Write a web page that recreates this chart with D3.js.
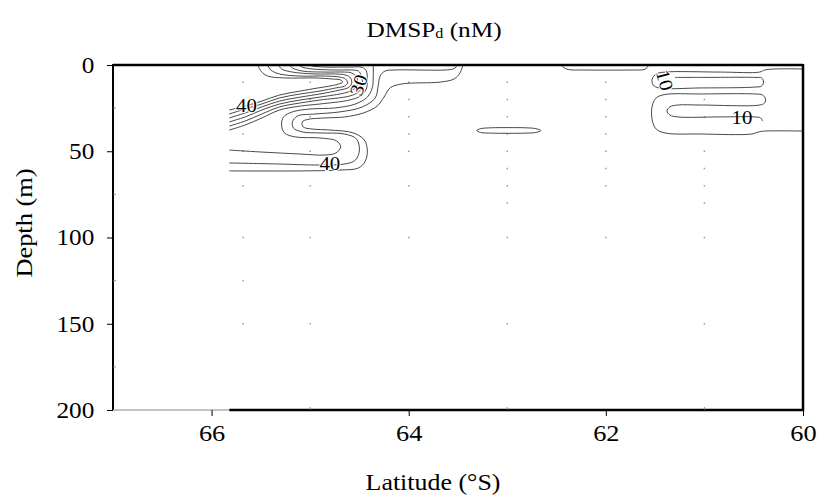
<!DOCTYPE html>
<html><head><meta charset="utf-8">
<script src="https://cdn.jsdelivr.net/npm/d3@7"></script>
<style>
body{margin:0;background:#fff}
text{font-family:"Liberation Serif","Times New Roman",serif;fill:#000}
</style>
</head><body><svg id="c" width="823" height="497"></svg>
<script>
// ---- data ----
const xTicks=[66,64,62,60];
const xMinor=[65,63,61];
const yTicks=[0,50,100,150,200];
const yMinor=[25,75,125,175];
const dataStart=65.82;
const stationLats=[65.68,65.0,64.0,63.0,62.0,61.0];
const stationDepths=[
 [10,40,50,70,100,125,150],
 [10,20,30,50,70,100,150],
 [10,20,30,40,50,70,100],
 [10,20,30,40,50,60,70,80,100,150],
 [10,20,30,40,50,60,70,100],
 [20,30,50,60,70,80,100,150,200]];
// contour lines as [latitude, depth] pairs
const fan1=[[65.53,0],[65.50,3.5],[65.43,6.4],[65.26,7.5],[64.95,7.5],[64.78,8.1],[64.69,8.7],[64.67,9.9],[64.71,11.0],[64.80,12.2],[64.92,13.3],[65.10,15.1],[65.31,17.4],[65.49,20.9],[65.66,23.8],[65.82,26.1]];
const fan2=[[65.43,0],[65.40,2.9],[65.31,5.2],[65.10,6.4],[64.85,6.4],[64.70,7.0],[64.64,8.1],[64.62,10.4],[64.65,12.2],[64.74,13.3],[64.90,15.1],[65.10,16.8],[65.31,19.1],[65.49,22.6],[65.66,25.5],[65.82,28.4]];
const fan3=[[65.32,0],[65.29,2.3],[65.18,4.1],[64.95,5.2],[64.75,5.2],[64.64,5.8],[64.59,7.5],[64.58,11.0],[64.62,13.3],[64.70,14.5],[64.90,16.8],[65.10,18.6],[65.31,20.9],[65.49,24.3],[65.66,27.8],[65.82,30.7]];
const fan4=[[65.21,0],[65.18,1.7],[65.08,3.5],[64.85,4.1],[64.65,4.1],[64.58,4.6],[64.53,7.0],[64.52,11.6],[64.57,14.5],[64.65,16.2],[64.90,18.6],[65.10,20.3],[65.31,22.6],[65.49,26.1],[65.66,30.1],[65.82,33.0]];
const fan5=[[65.11,0],[65.08,1.2],[64.98,2.3],[64.75,2.9],[64.58,2.9],[64.51,3.5],[64.48,6.4],[64.47,12.2],[64.51,15.7],[64.60,18.0],[64.90,20.3],[65.10,22.0],[65.31,24.3],[65.49,28.4],[65.66,32.5],[65.82,35.4]];
const fan6=[[65.01,0],[64.98,0.6],[64.85,1.2],[64.60,1.2],[64.47,1.4],[64.43,3.5],[64.42,8.7],[64.43,13.9],[64.49,18.0],[64.60,20.3],[64.90,22.6],[65.10,23.8],[65.31,26.1],[65.49,30.7],[65.66,34.8],[65.82,37.7]];
const sA=[[65.82,49.3],[65.51,50.4],[65.10,51.6],[64.85,52.2],[64.74,51.0],[64.69,47.5],[64.73,44.1],[64.90,42.3],[65.15,41.7],[65.26,39.4],[65.29,34.8],[65.27,30.1],[65.18,27.2],[65.00,25.5],[64.75,24.9],[64.54,22.6],[64.42,18.6],[64.37,13.3],[64.36,7.5],[64.36,0]];
const sB=[[65.82,56.8],[65.31,57.4],[64.90,58.0],[64.65,57.4],[64.54,55.1],[64.50,49.3],[64.53,42.9],[64.65,40.0],[64.90,39.4],[65.08,38.8],[65.17,36.5],[65.18,33.0],[65.13,29.6],[64.95,28.4],[64.70,27.2],[64.47,24.3],[64.34,19.1],[64.31,12.2],[64.29,6.4],[64.24,3.5],[64.14,2.9],[63.63,2.9],[63.55,2.3],[63.52,1.2],[63.51,0]];
const sC=[[65.82,61.4],[65.10,61.4],[64.70,60.9],[64.51,59.7],[64.44,55.7],[64.42,49.3],[64.45,43.5],[64.56,39.4],[64.80,37.7],[64.98,37.1],[65.07,35.9],[65.08,33.0],[65.03,31.6],[64.85,30.7],[64.65,30.1],[64.46,27.8],[64.32,23.8],[64.25,18.6],[64.19,13.3],[64.07,11.0],[63.68,9.9],[63.54,8.1],[63.48,4.6],[63.45,0]];
const fingerA=[[60.0,2.3],[60.28,2.3],[60.39,2.9],[60.44,4.1],[60.84,4.1],[61.40,4.1],[61.49,5.2],[61.53,8.1],[61.52,11.6],[61.46,13.3],[61.04,13.3],[60.49,12.8],[60.42,12.2],[60.40,9.9],[60.42,7.5],[60.49,7.2],[61.04,7.2],[61.30,7.2]];
const fingerB=[[60.0,38.3],[60.39,38.3],[60.45,38.8],[60.52,40.0],[61.04,40.0],[61.40,39.4],[61.49,37.1],[61.53,31.9],[61.53,23.8],[61.49,19.1],[61.40,17.1],[61.04,16.8],[60.49,16.8],[60.41,17.4],[60.38,19.7],[60.39,22.0],[60.44,23.2],[61.04,23.2],[61.27,23.2],[61.35,24.3],[61.38,26.7],[61.35,29.0],[61.27,30.1],[60.84,30.1],[60.49,30.1],[60.43,30.7],[60.41,32.5]];
const topPatch=[[62.44,0],[62.43,1.4],[62.38,2.6],[62.21,2.9],[61.75,2.9],[61.61,2.6],[61.58,1.4],[61.57,0]];
const lens=[[63.31,38.0],[63.27,36.9],[63.16,36.4],[62.99,36.3],[62.82,36.4],[62.71,36.9],[62.66,38.0],[62.71,39.1],[62.82,39.5],[62.99,39.6],[63.16,39.5],[63.27,39.1]];
const openLines=[fan1,fan2,fan3,fan4,fan5,fan6,sA,sB,sC,fingerA,fingerB,topPatch];
const closedLines=[lens];
const labelText=["40","30","40","10","10"];
const labelLat=[65.645,64.51,64.80,61.40,60.62];
const labelDepth=[23.5,11.6,56.8,8.7,30.1];
const labelAngle=[0,-72,0,75,0];
const labelHalo=[true,true,true,true,false];

// ---- drawing ----
const svg=d3.select("#c");
const x=d3.scaleLinear().domain([67,60]).range([113,803]);
const y=d3.scaleLinear().domain([0,200]).range([65,410]);
const SX=1.1;

// station dots
stationLats.forEach((lat,i)=>{
  svg.append("g").selectAll("rect").data(stationDepths[i]).join("rect")
    .attr("x",x(lat)-0.75).attr("y",d=>y(d)-0.75).attr("width",1.5).attr("height",1.5)
    .attr("fill","#9a9a9a");
});

// contour lines
const line=d3.line().x(d=>x(d[0])).y(d=>y(d[1])).curve(d3.curveCatmullRom.alpha(0.5));
const lineClosed=d3.line().x(d=>x(d[0])).y(d=>y(d[1])).curve(d3.curveCatmullRomClosed.alpha(0.5));
svg.append("g").selectAll("path").data(openLines).join("path")
  .attr("d",line).attr("fill","none").attr("stroke","#333").attr("stroke-width",0.9);
svg.append("g").selectAll("path").data(closedLines).join("path")
  .attr("d",lineClosed).attr("fill","none").attr("stroke","#333").attr("stroke-width",0.9);

// contour labels
labelText.forEach((t,i)=>{
  svg.append("text")
    .attr("transform",`translate(${x(labelLat[i])},${y(labelDepth[i])}) rotate(${labelAngle[i]}) scale(${SX},1)`)
    .attr("text-anchor","middle").attr("dy","0.35em")
    .style("font-size","19px")
    .attr("stroke",labelHalo[i]?"#fff":"none").attr("stroke-width",labelHalo[i]?2:0)
    .attr("paint-order","stroke")
    .text(t);
});

// frame
const fr=svg.append("g");
fr.append("line").attr("x1",x(67)).attr("x2",x(60)).attr("y1",y(0)).attr("y2",y(0)).attr("stroke","#000").attr("stroke-width",2.5);
fr.append("line").attr("x1",x(67)).attr("x2",x(67)).attr("y1",y(0)-1).attr("y2",y(200)).attr("stroke","#000").attr("stroke-width",2);
fr.append("line").attr("x1",x(60)).attr("x2",x(60)).attr("y1",y(0)-1).attr("y2",y(200)+1).attr("stroke","#000").attr("stroke-width",2.5);
fr.append("line").attr("x1",x(67)).attr("x2",x(dataStart)).attr("y1",y(200)).attr("y2",y(200)).attr("stroke","#888").attr("stroke-width",1);
fr.append("line").attr("x1",x(dataStart)).attr("x2",x(60)).attr("y1",y(200)).attr("y2",y(200)).attr("stroke","#000").attr("stroke-width",2.5);

// y axis
const ya=svg.append("g").attr("transform",`translate(${x(67)},0)`)
  .call(d3.axisLeft(y).tickValues(yTicks).tickSize(6).tickPadding(11));
ya.select(".domain").remove();
ya.selectAll("line").attr("stroke","#000").attr("stroke-width",1);
ya.selectAll("text").style("font-size","23px").attr("font-family",null)
  .attr("transform",`scale(${SX},1)`);
svg.append("g").selectAll("line").data(yMinor).join("line")
  .attr("x1",x(67)).attr("x2",x(67)+3).attr("y1",d=>y(d)).attr("y2",d=>y(d))
  .attr("stroke","#777").attr("stroke-width",0.8);

// x axis
const xa=svg.append("g").attr("transform",`translate(0,${y(200)})`)
  .call(d3.axisBottom(x).tickValues(xTicks).tickSize(6).tickPadding(8).tickFormat(d3.format("d")));
xa.select(".domain").remove();
xa.selectAll("line").attr("stroke","#000").attr("stroke-width",1);
xa.selectAll("text").style("font-size","24px").attr("font-family",null)
  .attr("transform",`scale(${SX},1)`);
svg.append("g").selectAll("line").data(xMinor).join("line")
  .attr("x1",d=>x(d)).attr("x2",d=>x(d)).attr("y1",y(200)).attr("y2",y(200)-3)
  .attr("stroke","#777").attr("stroke-width",0.8);

// titles
const title=svg.append("text").attr("transform",`translate(434,37) scale(1.15,1)`)
  .attr("text-anchor","middle").style("font-size","22px");
title.append("tspan").text("DMSP");
title.append("tspan").style("font-size","14px").attr("dy","1").text("d");
title.append("tspan").attr("dy","-1").text(" (nM)");

svg.append("text").attr("transform",`translate(433,490) scale(1.08,1)`)
  .attr("text-anchor","middle").style("font-size","24px").text("Latitude (°S)");
svg.append("text").attr("transform",`translate(32,223) rotate(-90) scale(1.1,1)`)
  .attr("text-anchor","middle").style("font-size","24px").text("Depth (m)");
</script>
</body></html>
